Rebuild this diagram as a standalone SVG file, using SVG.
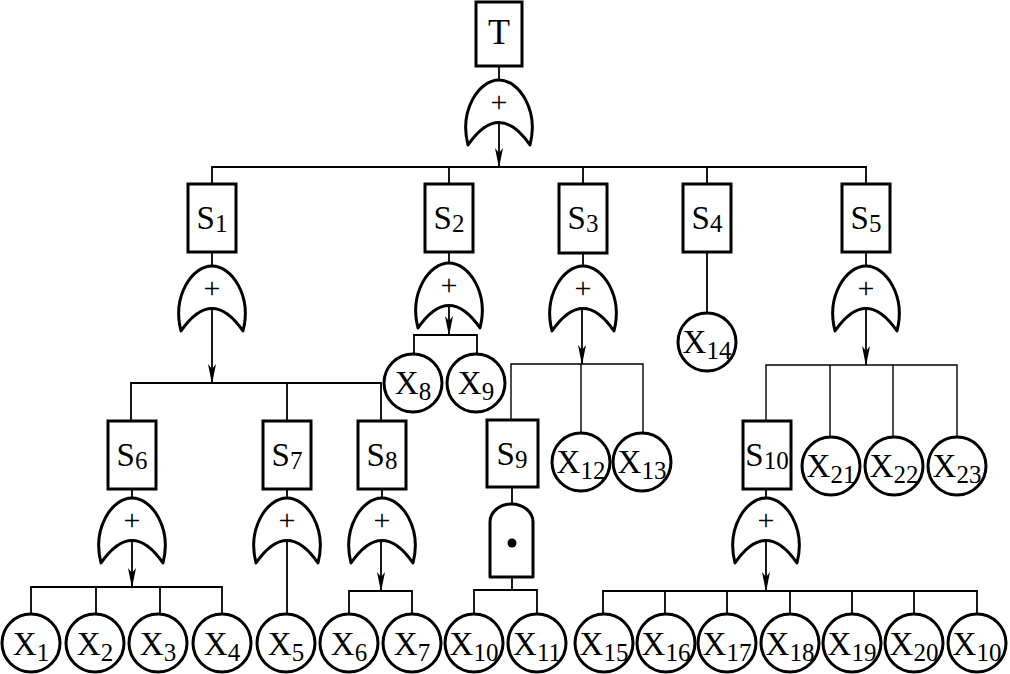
<svg xmlns="http://www.w3.org/2000/svg" width="1010" height="674" viewBox="0 0 1010 674">
<style>
.box{fill:#fff;stroke:#000;stroke-width:3}
.ev{fill:#fff;stroke:#000;stroke-width:3}
.gate{fill:#fff;stroke:#000;stroke-width:3;stroke-linejoin:round}
.ln{fill:none;stroke:#000;stroke-width:1.8}
.lbl{font-family:"Liberation Serif","Times New Roman",serif;font-size:33px;fill:#000;text-anchor:middle}
.sub{font-size:25px}
.plus{font-family:"Liberation Serif","Times New Roman",serif;font-size:30px;fill:#000;text-anchor:middle}
</style>
<defs>
<marker id="arr" viewBox="0 0 20 8" refX="19" refY="4" markerWidth="20" markerHeight="8" markerUnits="userSpaceOnUse" orient="auto">
<path d="M0,0 L20,4 L0,8 L5,4 Z" fill="#000"/>
</marker>
<path id="org" d="M-31,65 C-40,30 -20,0 0,0 C20,0 40,30 31,65 Q0,20 -31,65 Z"/>
</defs>
<rect width="1010" height="674" fill="#fff"/>

<g id="connectors">
<path class="ln" d="M499,66 V80"/>
<path class="ln" d="M499,122 V167" marker-end="url(#arr)"/>
<path class="ln" d="M212,184 V167 H866 V184 M449,167 V184 M583,167 V184 M707,167 V184"/>
<path class="ln" d="M212,252 V266"/>
<path class="ln" d="M212,308 V383" marker-end="url(#arr)"/>
<path class="ln" d="M131,421 V383 H381 V421 M287,383 V421"/>
<path class="ln" d="M449,252 V263"/>
<path class="ln" d="M449,305 V335" marker-end="url(#arr)"/>
<path class="ln" d="M414,353 V335 H477 V353"/>
<path class="ln" d="M583,253 V266"/>
<path class="ln" d="M582,308 V364" marker-end="url(#arr)"/>
<path class="ln" style="stroke-width:1.4" d="M511,420 V364 H643 V432 M581,364 V432"/>
<path class="ln" d="M707,252 V312"/>
<path class="ln" d="M866,252 V266"/>
<path class="ln" d="M866,308 V365" marker-end="url(#arr)"/>
<path class="ln" style="stroke-width:1.4" d="M766,421 V365 H957 V437 M830,365 V437 M893,365 V437"/>
<path class="ln" d="M132,489 V498"/>
<path class="ln" d="M132,540 V587" marker-end="url(#arr)"/>
<path class="ln" d="M31,614 V587 H222 V614 M96,587 V614 M160,587 V614"/>
<path class="ln" d="M287,489 V498 M287,540 V614"/>
<path class="ln" d="M382,489 V498"/>
<path class="ln" d="M381,540 V591" marker-end="url(#arr)"/>
<path class="ln" d="M349,614 V591 H412 V614"/>
<path class="ln" d="M512,487 V504 M512,577 V590"/>
<path class="ln" d="M474,614 V590 H537 V614"/>
<path class="ln" d="M766,489 V498"/>
<path class="ln" d="M766,540 V591" marker-end="url(#arr)"/>
<path class="ln" d="M603,614 V591 H977 V614 M665,591 V614 M727,591 V614 M790,591 V614 M852,591 V614 M914,591 V614"/>
</g>

<g id="T"><rect class="box" x="476" y="2" width="46" height="64"/><text class="lbl" x="499" y="44" style="font-size:36px">T</text></g>
<g id="G_T"><use href="#org" class="gate" x="499" y="80"/><text class="plus" x="499" y="112">+</text></g>

<g id="S1"><rect class="box" x="188" y="184" width="48" height="68"/><text class="lbl" x="212" y="229">S<tspan class="sub" dy="3">1</tspan></text></g>
<g id="G_S1"><use href="#org" class="gate" x="212" y="266"/><text class="plus" x="212" y="298">+</text></g>
<g id="S2"><rect class="box" x="425" y="184" width="48" height="68"/><text class="lbl" x="449" y="229">S<tspan class="sub" dy="3">2</tspan></text></g>
<g id="G_S2"><use href="#org" class="gate" x="449" y="263"/><text class="plus" x="449" y="295">+</text></g>
<g id="S3"><rect class="box" x="559" y="184" width="48" height="69"/><text class="lbl" x="583" y="229">S<tspan class="sub" dy="3">3</tspan></text></g>
<g id="G_S3"><use href="#org" class="gate" x="583" y="266"/><text class="plus" x="583" y="298">+</text></g>
<g id="S4"><rect class="box" x="683" y="184" width="48" height="68"/><text class="lbl" x="707" y="229">S<tspan class="sub" dy="3">4</tspan></text></g>
<g id="S5"><rect class="box" x="842" y="184" width="48" height="68"/><text class="lbl" x="866" y="229">S<tspan class="sub" dy="3">5</tspan></text></g>
<g id="G_S5"><use href="#org" class="gate" x="866" y="266"/><text class="plus" x="866" y="298">+</text></g>

<g id="S6"><rect class="box" x="108" y="421" width="48" height="68"/><text class="lbl" x="132" y="466">S<tspan class="sub" dy="3">6</tspan></text></g>
<g id="G_S6"><use href="#org" class="gate" x="132" y="498"/><text class="plus" x="132" y="530">+</text></g>
<g id="S7"><rect class="box" x="263" y="421" width="48" height="68"/><text class="lbl" x="287" y="466">S<tspan class="sub" dy="3">7</tspan></text></g>
<g id="G_S7"><use href="#org" class="gate" x="287" y="498"/><text class="plus" x="287" y="530">+</text></g>
<g id="S8"><rect class="box" x="358" y="421" width="48" height="68"/><text class="lbl" x="382" y="466">S<tspan class="sub" dy="3">8</tspan></text></g>
<g id="G_S8"><use href="#org" class="gate" x="382" y="498"/><text class="plus" x="382" y="530">+</text></g>
<g id="S9"><rect class="box" x="487" y="420" width="51" height="67"/><text class="lbl" x="512" y="465">S<tspan class="sub" dy="3">9</tspan></text></g>
<g id="G_S9"><path class="gate" d="M490,577 V522 A21.5,18 0 0 1 533,522 V577 Z"/><circle cx="512" cy="543" r="4.5" fill="#000"/></g>
<g id="S10"><rect class="box" x="743" y="421" width="48" height="68"/><text class="lbl" x="767" y="466">S<tspan class="sub" dy="3">10</tspan></text></g>
<g id="G_S10"><use href="#org" class="gate" x="766" y="498"/><text class="plus" x="766" y="530">+</text></g>

<g id="X8"><circle class="ev" cx="413" cy="383" r="29"/><text class="lbl" x="413" y="394">X<tspan class="sub" dy="6">8</tspan></text></g>
<g id="X9"><circle class="ev" cx="476" cy="383" r="29"/><text class="lbl" x="476" y="394">X<tspan class="sub" dy="6">9</tspan></text></g>
<g id="X14"><circle class="ev" cx="707" cy="342" r="29"/><text class="lbl" x="707" y="353">X<tspan class="sub" dy="6">14</tspan></text></g>
<g id="X12"><circle class="ev" cx="581" cy="462" r="29"/><text class="lbl" x="581" y="473">X<tspan class="sub" dy="6">12</tspan></text></g>
<g id="X13"><circle class="ev" cx="642" cy="462" r="29"/><text class="lbl" x="642" y="473">X<tspan class="sub" dy="6">13</tspan></text></g>
<g id="X21"><circle class="ev" cx="831" cy="466" r="29"/><text class="lbl" x="831" y="477">X<tspan class="sub" dy="6">21</tspan></text></g>
<g id="X22"><circle class="ev" cx="894" cy="466" r="29"/><text class="lbl" x="894" y="477">X<tspan class="sub" dy="6">22</tspan></text></g>
<g id="X23"><circle class="ev" cx="957" cy="466" r="29"/><text class="lbl" x="957" y="477">X<tspan class="sub" dy="6">23</tspan></text></g>

<g id="X1"><circle class="ev" cx="31" cy="643" r="29"/><text class="lbl" x="31" y="655">X<tspan class="sub" dy="6">1</tspan></text></g>
<g id="X2"><circle class="ev" cx="95" cy="643" r="29"/><text class="lbl" x="95" y="655">X<tspan class="sub" dy="6">2</tspan></text></g>
<g id="X3"><circle class="ev" cx="158" cy="643" r="29"/><text class="lbl" x="158" y="655">X<tspan class="sub" dy="6">3</tspan></text></g>
<g id="X4"><circle class="ev" cx="222" cy="643" r="29"/><text class="lbl" x="222" y="655">X<tspan class="sub" dy="6">4</tspan></text></g>
<g id="X5"><circle class="ev" cx="286" cy="643" r="29"/><text class="lbl" x="286" y="655">X<tspan class="sub" dy="6">5</tspan></text></g>
<g id="X6"><circle class="ev" cx="349" cy="643" r="29"/><text class="lbl" x="349" y="655">X<tspan class="sub" dy="6">6</tspan></text></g>
<g id="X7"><circle class="ev" cx="412" cy="643" r="29"/><text class="lbl" x="412" y="655">X<tspan class="sub" dy="6">7</tspan></text></g>
<g id="X10a"><circle class="ev" cx="474" cy="643" r="29"/><text class="lbl" x="474" y="655">X<tspan class="sub" dy="6">10</tspan></text></g>
<g id="X11"><circle class="ev" cx="537" cy="643" r="29"/><text class="lbl" x="537" y="655">X<tspan class="sub" dy="6">11</tspan></text></g>
<g id="X15"><circle class="ev" cx="604" cy="643" r="29"/><text class="lbl" x="604" y="655">X<tspan class="sub" dy="6">15</tspan></text></g>
<g id="X16"><circle class="ev" cx="666" cy="643" r="29"/><text class="lbl" x="666" y="655">X<tspan class="sub" dy="6">16</tspan></text></g>
<g id="X17"><circle class="ev" cx="727" cy="643" r="29"/><text class="lbl" x="727" y="655">X<tspan class="sub" dy="6">17</tspan></text></g>
<g id="X18"><circle class="ev" cx="790" cy="643" r="29"/><text class="lbl" x="790" y="655">X<tspan class="sub" dy="6">18</tspan></text></g>
<g id="X19"><circle class="ev" cx="852" cy="643" r="29"/><text class="lbl" x="852" y="655">X<tspan class="sub" dy="6">19</tspan></text></g>
<g id="X20"><circle class="ev" cx="914" cy="643" r="29"/><text class="lbl" x="914" y="655">X<tspan class="sub" dy="6">20</tspan></text></g>
<g id="X10b"><circle class="ev" cx="977" cy="643" r="29"/><text class="lbl" x="977" y="655">X<tspan class="sub" dy="6">10</tspan></text></g>
</svg>
